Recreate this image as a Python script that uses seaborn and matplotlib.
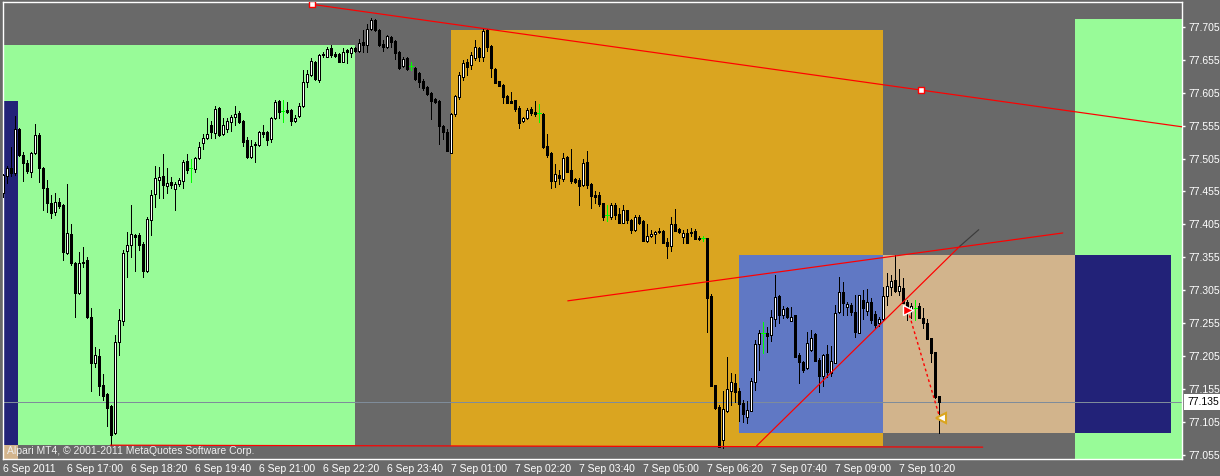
import numpy as np
import matplotlib
matplotlib.use("Agg")
import matplotlib.pyplot as plt
import matplotlib.transforms as mtransforms
from matplotlib.patches import Rectangle
import seaborn as sns

# USDJPY-like M5 bars, 6 Sep 2011 15:40 -> 7 Sep 2011 11:10
opens = [77.453, 77.478, 77.491, 77.483, 77.550, 77.510, 77.498, 77.485, 77.513, 77.541,
         77.491, 77.460, 77.437, 77.424, 77.439, 77.434, 77.362, 77.390, 77.346, 77.301,
         77.346, 77.351, 77.264, 77.195, 77.205, 77.161, 77.148, 77.129, 77.088, 77.227,
         77.258, 77.365, 77.374, 77.389, 77.389, 77.375, 77.334, 77.412, 77.451, 77.472,
         77.478, 77.463, 77.469, 77.459, 77.466, 77.471, 77.501, 77.491, 77.489, 77.506,
         77.528, 77.536, 77.556, 77.544, 77.582, 77.542, 77.550, 77.560, 77.568, 77.574,
         77.562, 77.533, 77.507, 77.525, 77.525, 77.545, 77.545, 77.535, 77.566, 77.592,
         77.577, 77.579, 77.579, 77.562, 77.570, 77.585, 77.621, 77.632, 77.651, 77.624,
         77.664, 77.659, 77.673, 77.664, 77.664, 77.651, 77.670, 77.665, 77.673, 77.668,
         77.682, 77.677, 77.702, 77.715, 77.700, 77.679, 77.674, 77.689, 77.683, 77.667,
         77.645, 77.657, 77.645, 77.642, 77.635, 77.623, 77.613, 77.604, 77.595, 77.592,
         77.554, 77.545, 77.513, 77.573, 77.598, 77.629, 77.651, 77.647, 77.657, 77.673,
         77.659, 77.700, 77.676, 77.641, 77.623, 77.616, 77.600, 77.592, 77.594, 77.582,
         77.562, 77.566, 77.580, 77.576, 77.574, 77.573, 77.524, 77.513, 77.471, 77.480,
         77.474, 77.507, 77.488, 77.474, 77.472, 77.465, 77.500, 77.466, 77.450, 77.450,
         77.437, 77.419, 77.416, 77.434, 77.421, 77.407, 77.427, 77.412, 77.397, 77.416,
         77.410, 77.380, 77.387, 77.390, 77.395, 77.395, 77.378, 77.372, 77.406, 77.398,
         77.386, 77.392, 77.393, 77.395, 77.384, 77.384, 77.384, 77.296, 77.161, 77.128,
         77.078, 77.122, 77.152, 77.164, 77.152, 77.134, 77.113, 77.122, 77.166, 77.224,
         77.240, 77.240, 77.237, 77.261, 77.296, 77.268, 77.278, 77.258, 77.268, 77.207,
         77.196, 77.187, 77.214, 77.239, 77.199, 77.175, 77.208, 77.180, 77.195, 77.272,
         77.302, 77.280, 77.283, 77.272, 77.240, 77.290, 77.274, 77.287, 77.269, 77.255,
         77.261, 77.296, 77.310, 77.321, 77.304, 77.309, 77.287, 77.274, 77.278, 77.281,
         77.263, 77.255, 77.233, 77.211, 77.145]
highs = [77.481, 77.494, 77.522, 77.570, 77.551, 77.515, 77.503, 77.515, 77.557, 77.544,
         77.492, 77.472, 77.450, 77.453, 77.445, 77.436, 77.466, 77.406, 77.348, 77.363,
         77.371, 77.356, 77.278, 77.219, 77.216, 77.178, 77.149, 77.131, 77.237, 77.277,
         77.366, 77.393, 77.434, 77.390, 77.392, 77.378, 77.416, 77.457, 77.494, 77.492,
         77.512, 77.491, 77.477, 77.469, 77.475, 77.503, 77.512, 77.504, 77.507, 77.530,
         77.542, 77.566, 77.562, 77.585, 77.583, 77.566, 77.566, 77.571, 77.585, 77.577,
         77.563, 77.538, 77.533, 77.530, 77.547, 77.556, 77.547, 77.568, 77.594, 77.594,
         77.594, 77.591, 77.580, 77.571, 77.589, 77.639, 77.639, 77.657, 77.653, 77.664,
         77.667, 77.674, 77.677, 77.667, 77.665, 77.673, 77.671, 77.674, 77.674, 77.686,
         77.700, 77.709, 77.718, 77.717, 77.702, 77.685, 77.692, 77.691, 77.685, 77.668,
         77.659, 77.659, 77.651, 77.644, 77.636, 77.626, 77.615, 77.606, 77.597, 77.594,
         77.556, 77.550, 77.574, 77.601, 77.636, 77.654, 77.656, 77.667, 77.685, 77.674,
         77.702, 77.702, 77.677, 77.642, 77.623, 77.618, 77.601, 77.606, 77.594, 77.585,
         77.568, 77.582, 77.583, 77.592, 77.588, 77.574, 77.542, 77.515, 77.497, 77.488,
         77.513, 77.509, 77.519, 77.475, 77.475, 77.504, 77.516, 77.468, 77.456, 77.454,
         77.437, 77.434, 77.437, 77.437, 77.430, 77.434, 77.427, 77.413, 77.419, 77.419,
         77.412, 77.406, 77.397, 77.395, 77.400, 77.397, 77.384, 77.416, 77.428, 77.400,
         77.397, 77.398, 77.400, 77.398, 77.387, 77.387, 77.384, 77.299, 77.161, 77.131,
         77.152, 77.204, 77.180, 77.178, 77.157, 77.139, 77.137, 77.172, 77.230, 77.245,
         77.257, 77.249, 77.275, 77.328, 77.298, 77.281, 77.280, 77.280, 77.268, 77.210,
         77.198, 77.242, 77.245, 77.240, 77.202, 77.208, 77.222, 77.221, 77.283, 77.325,
         77.318, 77.287, 77.286, 77.298, 77.298, 77.305, 77.307, 77.293, 77.274, 77.264,
         77.310, 77.331, 77.328, 77.359, 77.337, 77.324, 77.290, 77.286, 77.290, 77.286,
         77.278, 77.261, 77.233, 77.211, 77.145]
lows = [77.447, 77.468, 77.478, 77.480, 77.509, 77.471, 77.483, 77.477, 77.512, 77.469,
        77.427, 77.424, 77.415, 77.419, 77.430, 77.351, 77.360, 77.343, 77.264, 77.299,
        77.340, 77.263, 77.152, 77.189, 77.146, 77.139, 77.099, 77.070, 77.087, 77.207,
        77.252, 77.325, 77.356, 77.334, 77.366, 77.325, 77.333, 77.389, 77.431, 77.445,
        77.445, 77.453, 77.460, 77.427, 77.463, 77.460, 77.483, 77.469, 77.485, 77.504,
        77.519, 77.535, 77.536, 77.536, 77.539, 77.541, 77.545, 77.547, 77.556, 77.559,
        77.524, 77.506, 77.506, 77.500, 77.524, 77.538, 77.525, 77.530, 77.565, 77.566,
        77.560, 77.574, 77.556, 77.560, 77.568, 77.583, 77.613, 77.630, 77.624, 77.621,
        77.659, 77.659, 77.659, 77.659, 77.651, 77.651, 77.650, 77.659, 77.667, 77.667,
        77.667, 77.667, 77.700, 77.698, 77.676, 77.668, 77.673, 77.674, 77.656, 77.641,
        77.644, 77.639, 77.639, 77.624, 77.613, 77.609, 77.601, 77.565, 77.589, 77.527,
        77.535, 77.516, 77.513, 77.570, 77.595, 77.624, 77.632, 77.641, 77.654, 77.653,
        77.653, 77.668, 77.629, 77.620, 77.615, 77.589, 77.589, 77.589, 77.577, 77.551,
        77.560, 77.565, 77.571, 77.570, 77.560, 77.521, 77.507, 77.460, 77.462, 77.466,
        77.471, 77.485, 77.468, 77.468, 77.434, 77.463, 77.460, 77.430, 77.437, 77.433,
        77.412, 77.410, 77.413, 77.413, 77.407, 77.407, 77.407, 77.392, 77.395, 77.406,
        77.380, 77.378, 77.386, 77.377, 77.392, 77.377, 77.354, 77.365, 77.395, 77.392,
        77.377, 77.377, 77.387, 77.383, 77.381, 77.380, 77.242, 77.160, 77.125, 77.067,
        77.066, 77.120, 77.131, 77.136, 77.107, 77.105, 77.104, 77.122, 77.154, 77.184,
        77.210, 77.211, 77.228, 77.251, 77.255, 77.263, 77.263, 77.258, 77.204, 77.164,
        77.181, 77.186, 77.213, 77.198, 77.151, 77.160, 77.173, 77.175, 77.195, 77.270,
        77.268, 77.268, 77.268, 77.234, 77.240, 77.261, 77.268, 77.255, 77.248, 77.251,
        77.260, 77.283, 77.298, 77.302, 77.298, 77.286, 77.260, 77.263, 77.260, 77.263,
        77.248, 77.231, 77.196, 77.142, 77.088]
closes = [77.480, 77.491, 77.483, 77.550, 77.510, 77.498, 77.486, 77.513, 77.541, 77.491,
          77.460, 77.437, 77.422, 77.439, 77.433, 77.363, 77.392, 77.346, 77.301, 77.346,
          77.348, 77.264, 77.195, 77.207, 77.160, 77.145, 77.126, 77.085, 77.227, 77.260,
          77.362, 77.374, 77.390, 77.386, 77.374, 77.334, 77.413, 77.450, 77.475, 77.477,
          77.465, 77.468, 77.465, 77.466, 77.472, 77.500, 77.488, 77.491, 77.506, 77.522,
          77.536, 77.542, 77.545, 77.580, 77.541, 77.556, 77.562, 77.568, 77.573, 77.560,
          77.530, 77.507, 77.524, 77.527, 77.545, 77.542, 77.533, 77.566, 77.591, 77.576,
          77.577, 77.576, 77.562, 77.566, 77.585, 77.621, 77.633, 77.653, 77.626, 77.662,
          77.662, 77.671, 77.662, 77.660, 77.651, 77.667, 77.667, 77.673, 77.668, 77.680,
          77.677, 77.702, 77.715, 77.700, 77.677, 77.674, 77.691, 77.682, 77.665, 77.642,
          77.656, 77.641, 77.645, 77.626, 77.621, 77.612, 77.603, 77.592, 77.591, 77.554,
          77.545, 77.516, 77.573, 77.600, 77.632, 77.650, 77.644, 77.662, 77.674, 77.659,
          77.698, 77.674, 77.642, 77.620, 77.615, 77.598, 77.589, 77.589, 77.580, 77.559,
          77.566, 77.579, 77.574, 77.573, 77.574, 77.522, 77.510, 77.471, 77.481, 77.475,
          77.506, 77.485, 77.471, 77.469, 77.463, 77.498, 77.465, 77.448, 77.447, 77.436,
          77.416, 77.419, 77.434, 77.419, 77.407, 77.427, 77.412, 77.397, 77.416, 77.407,
          77.380, 77.387, 77.390, 77.393, 77.393, 77.377, 77.372, 77.406, 77.395, 77.393,
          77.392, 77.377, 77.392, 77.383, 77.383, 77.384, 77.293, 77.160, 77.126, 77.067,
          77.125, 77.155, 77.166, 77.151, 77.132, 77.117, 77.123, 77.167, 77.224, 77.240,
          77.240, 77.236, 77.264, 77.295, 77.268, 77.277, 77.264, 77.264, 77.204, 77.196,
          77.184, 77.225, 77.233, 77.198, 77.175, 77.207, 77.181, 77.198, 77.270, 77.302,
          77.286, 77.284, 77.272, 77.242, 77.298, 77.278, 77.287, 77.260, 77.252, 77.261,
          77.296, 77.312, 77.319, 77.304, 77.312, 77.286, 77.278, 77.281, 77.278, 77.263,
          77.255, 77.231, 77.210, 77.143, 77.135]

bid_price = 77.135

# x tick every 16 bars
tick_bars = [0, 16, 32, 48, 64, 80, 96, 112, 128, 144, 160, 176, 192, 208, 224]
tick_labels = ["6 Sep 2011", "6 Sep 17:00", "6 Sep 18:20", "6 Sep 19:40", "6 Sep 21:00",
               "6 Sep 22:20", "6 Sep 23:40", "7 Sep 01:00", "7 Sep 02:20", "7 Sep 03:40",
               "7 Sep 05:00", "7 Sep 06:20", "7 Sep 07:40", "7 Sep 09:00", "7 Sep 10:20"]
price_ticks = [77.055, 77.105, 77.155, 77.205, 77.255, 77.305, 77.355, 77.405,
               77.455, 77.505, 77.555, 77.605, 77.655, 77.705]

# rectangle objects: (colour, bar from, bar to, price low, price high)
zones = [
    ("#98FB98", -2, 87.9, 77.070, 77.677),
    ("#222278", -2, 3.9, 77.070, 77.592),
    ("#D2B48C", -2, 3.9, 77.040, 77.070),
    ("#DAA520", 111.9, 219.9, 77.069, 77.700),
    ("#6078C4", 183.9, 219.9, 77.088, 77.359),
    ("#D2B48C", 219.9, 267.9, 77.088, 77.359),
    ("#98FB98", 267.9, 300, 77.040, 77.717),
    ("#222278", 267.9, 291.9, 77.088, 77.359),
]

# trend lines: (bar1, price1, bar2, price2)
trend_lines = [
    (77.2, 77.739, 296.0, 77.552),
    (141.2, 77.289, 264.9, 77.392),
    (188.4, 77.069, 239.2, 77.372),
    (26.9, 77.070, 244.9, 77.067),
]
grey_line = (239.2, 77.372, 243.9, 77.397)
anchor_bars = [77.2, 229.4]
anchor_prices = [77.739, 77.609]
trade_bars = [226.2, 234.2]
trade_prices = [77.275, 77.111]

BG = "#696969"
sns.set_theme(style="dark", rc={
    "axes.facecolor": BG, "figure.facecolor": BG, "axes.edgecolor": "white",
    "xtick.color": "white", "ytick.color": "white", "text.color": "white",
    "axes.labelcolor": "white", "axes.grid": False,
})
plt.rcParams['font.family'] = ['Liberation Sans', 'DejaVu Sans']

PX = 72 / 100  # one pixel in points

fig = plt.figure(figsize=(12.2, 4.76), dpi=100)
ax = fig.add_axes([2.5 / 1220, 17 / 476, (1182 - 2.5) / 1220, (459 - 2) / 476])
ax.set_xlim(-0.075, 294.7)
ax.set_ylim(77.049, 77.7425)

for col, x0, x1, y0, y1 in zones:
    ax.add_patch(Rectangle((x0, y0), x1 - x0, y1 - y0, fc=col, ec="none", zorder=1,
                           antialiased=False))

ax.axhline(bid_price, color="#7F8C9A", lw=PX, zorder=2)

o = np.array(opens)
h = np.array(highs)
l = np.array(lows)
c = np.array(closes)
x = np.arange(len(o))
up = c > o
dn = c < o
flat = c == o

ax.vlines(x[~flat], l[~flat], h[~flat], color="black", lw=PX, zorder=4, antialiased=False)
ax.vlines(x[flat], l[flat], h[flat], color="#00FF00", lw=PX, zorder=4, antialiased=False)
ax.hlines(c[flat], x[flat] - 0.4, x[flat] + 0.4, color="#00FF00", lw=PX, zorder=4,
          antialiased=False)
ax.bar(x[up], c[up] - o[up], bottom=o[up], width=0.5, color="white", edgecolor="black",
       lw=PX, zorder=5, antialiased=False)
ax.bar(x[dn], o[dn] - c[dn], bottom=c[dn], width=0.5, color="black", edgecolor="black",
       lw=PX, zorder=5, antialiased=False)

for x0, y0, x1, y1 in trend_lines:
    sns.lineplot(x=[x0, x1], y=[y0, y1], ax=ax, color="red", lw=1.2 * PX, zorder=6)
sns.lineplot(x=[grey_line[0], grey_line[2]], y=[grey_line[1], grey_line[3]], ax=ax,
             color="#3C3C3C", lw=1.2 * PX, zorder=6)

sns.scatterplot(x=anchor_bars, y=anchor_prices, ax=ax, marker="s", s=14, color="white",
                edgecolor="red", linewidth=1, zorder=7)
ax.plot(trade_bars, trade_prices, color="red", lw=1, ls=(0, (2, 2)), zorder=6)
ax.plot(trade_bars[0], trade_prices[0], marker=">", ms=7, color="red", mec="white",
        mew=1, zorder=8)
ax.plot(trade_bars[1] + 0.3, trade_prices[1], marker="<", ms=7, mfc="white",
        mec="#DAA520", mew=1.5, zorder=8)

for side in ["top", "bottom", "left", "right"]:
    ax.spines[side].set_color("white")
    ax.spines[side].set_linewidth(1)

ax.yaxis.tick_right()
ax.set_yticks(price_ticks)
ax.set_yticklabels([f"{p:.3f}" for p in price_ticks])
ax.tick_params(axis="y", length=3 * PX, width=1, pad=3 * PX, labelsize=7.5, colors="white")
ax.set_xticks(tick_bars)
ax.set_xticklabels(tick_labels)
ax.tick_params(axis="x", length=3 * PX, width=1, pad=2 * PX, labelsize=7.5, colors="white")
for lab in ax.get_xticklabels():
    lab.set_ha("left")
ax.set_xlabel("")
ax.set_ylabel("")

off = mtransforms.ScaledTranslation(5 / 100, 0, fig.dpi_scale_trans)
ax.text(1, bid_price, f"{bid_price:.3f}", transform=ax.get_yaxis_transform() + off,
        ha="left", va="center", color="black", fontsize=7.5, zorder=10,
        bbox=dict(fc="white", ec="none", boxstyle="square,pad=0.3"))

fig.text(7 / 1220, (476 - 451) / 476, "Alpari MT4, \u00a9 2001-2011 MetaQuotes Software Corp.",
         color="#EEEEEE", fontsize=7.5, ha="left", va="center")

fig.savefig("out.png", dpi=100, facecolor=BG)
